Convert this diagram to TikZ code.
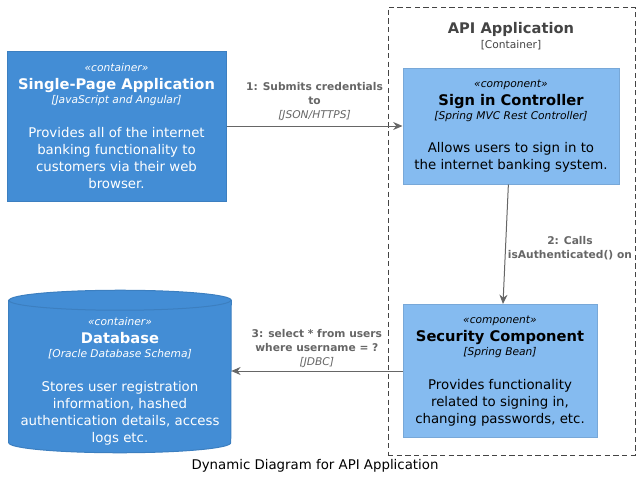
\documentclass[tikz,border=0pt]{standalone}
\usepackage{fontspec}
\setmainfont{DejaVu Sans}
\usetikzlibrary{arrows.meta}
\definecolor{containerfill}{HTML}{438DD5}
\definecolor{containerline}{HTML}{3C7FC0}
\definecolor{componentfill}{HTML}{85BBF0}
\definecolor{componentline}{HTML}{78A8D8}
\definecolor{relgray}{HTML}{666666}
\definecolor{boundarygray}{HTML}{444444}
\newcommand{\elemtext}[4]{{\fontsize{8}{10}\selectfont\itshape «#1»}\\[1pt]
  {\fontsize{11}{13}\selectfont\bfseries #2}\\[-2.5pt]
  {\fontsize{8}{10}\selectfont\itshape [#3]}\\[12.5pt]
  #4}
\begin{document}
\begin{tikzpicture}[x=0.75pt,y=-0.75pt,
    every node/.style={font=\fontsize{10}{12.75}\selectfont},
    container/.style={rectangle,fill=containerfill,draw=containerline,line width=0.75pt,text=white,align=center,inner sep=0pt},
    component/.style={rectangle,fill=componentfill,draw=componentline,line width=0.75pt,text=black,align=center,inner sep=0pt},
    dbshape/.style={fill=containerfill,draw=containerline,line width=0.75pt},
    dbend/.style={x radius=83.25pt,y radius=7.5pt},
    rel/.style={draw=relgray,line width=0.75pt,-{Stealth[length=7pt,width=6pt]}},
    rellabel/.style={text=relgray,align=center,font=\fontsize{8}{10.5}\selectfont\bfseries}]
  \useasboundingbox (0,0) rectangle (640,479);
  % API Application boundary
  \node[draw=boundarygray,dash pattern=on 4pt off 2.5pt,line width=0.75pt,minimum width=185.25pt,minimum height=336pt,inner sep=0pt] (api) at (511.5,231) {};
  \node[text=boundarygray,align=center] (apititle) at (511,36)
    {{\fontsize{11}{13}\selectfont\bfseries API Application}\\[-1pt]{\fontsize{8}{10}\selectfont [Container]}};
  % elements
  \node[container,minimum width=164.25pt,minimum height=112.5pt] (spa) at (116.5,126)
    {\elemtext{container}{Single-Page Application}{JavaScript and Angular}{Provides all of the internet\\banking functionality to\\customers via their web\\browser.}};
  \node[component,minimum width=162pt,minimum height=87pt] (signin) at (511,126)
    {\elemtext{component}{Sign in Controller}{Spring MVC Rest Controller}{Allows users to sign in to\\the internet banking system.}};
  \node[component,minimum width=145.5pt,minimum height=99.75pt] (security) at (500,371)
    {\elemtext{component}{Security Component}{Spring Bean}{Provides functionality\\related to signing in,\\changing passwords, etc.}};
  % database cylinder
  \node[minimum width=166.5pt,minimum height=121.5pt,inner sep=0pt] (db) at (120,371.5) {};
  \draw[dbshape] ([yshift=-7.5pt]db.north west) -- ([yshift=7.5pt]db.south west)
    arc[start angle=180,end angle=360,dbend] -- ([yshift=-7.5pt]db.north east)
    arc[start angle=0,end angle=180,dbend] -- cycle;
  \draw[draw=containerline,line width=0.75pt] ([yshift=-7.5pt]db.north west) arc[start angle=180,end angle=360,dbend];
  \node[text=white,align=center] (dbtext) at (120,381)
    {\elemtext{container}{Database}{Oracle Database Schema}{Stores user registration\\information, hashed\\authentication details, access\\logs etc.}};
  % relations
  \draw[rel] (spa) -- node[rellabel,above=0pt] (rel1)
    {1: Submits credentials\\to\\{\mdseries\itshape [JSON/HTTPS]}} (signin);
  \draw[rel] (signin) -- node[rellabel,anchor=west,xshift=-2pt,yshift=-3pt] (rel2)
    {2: Calls\\isAuthenticated() on} (security);
  \draw[rel] (security.west) -- node[rellabel,above=-1pt] (rel3)
    {3: select * from users\\where username = ?\\{\mdseries\itshape [JDBC]}} (security.west -| db.east);
  % caption
  \node (caption) at (315,466) {Dynamic Diagram for API Application};
\end{tikzpicture}
\end{document}
